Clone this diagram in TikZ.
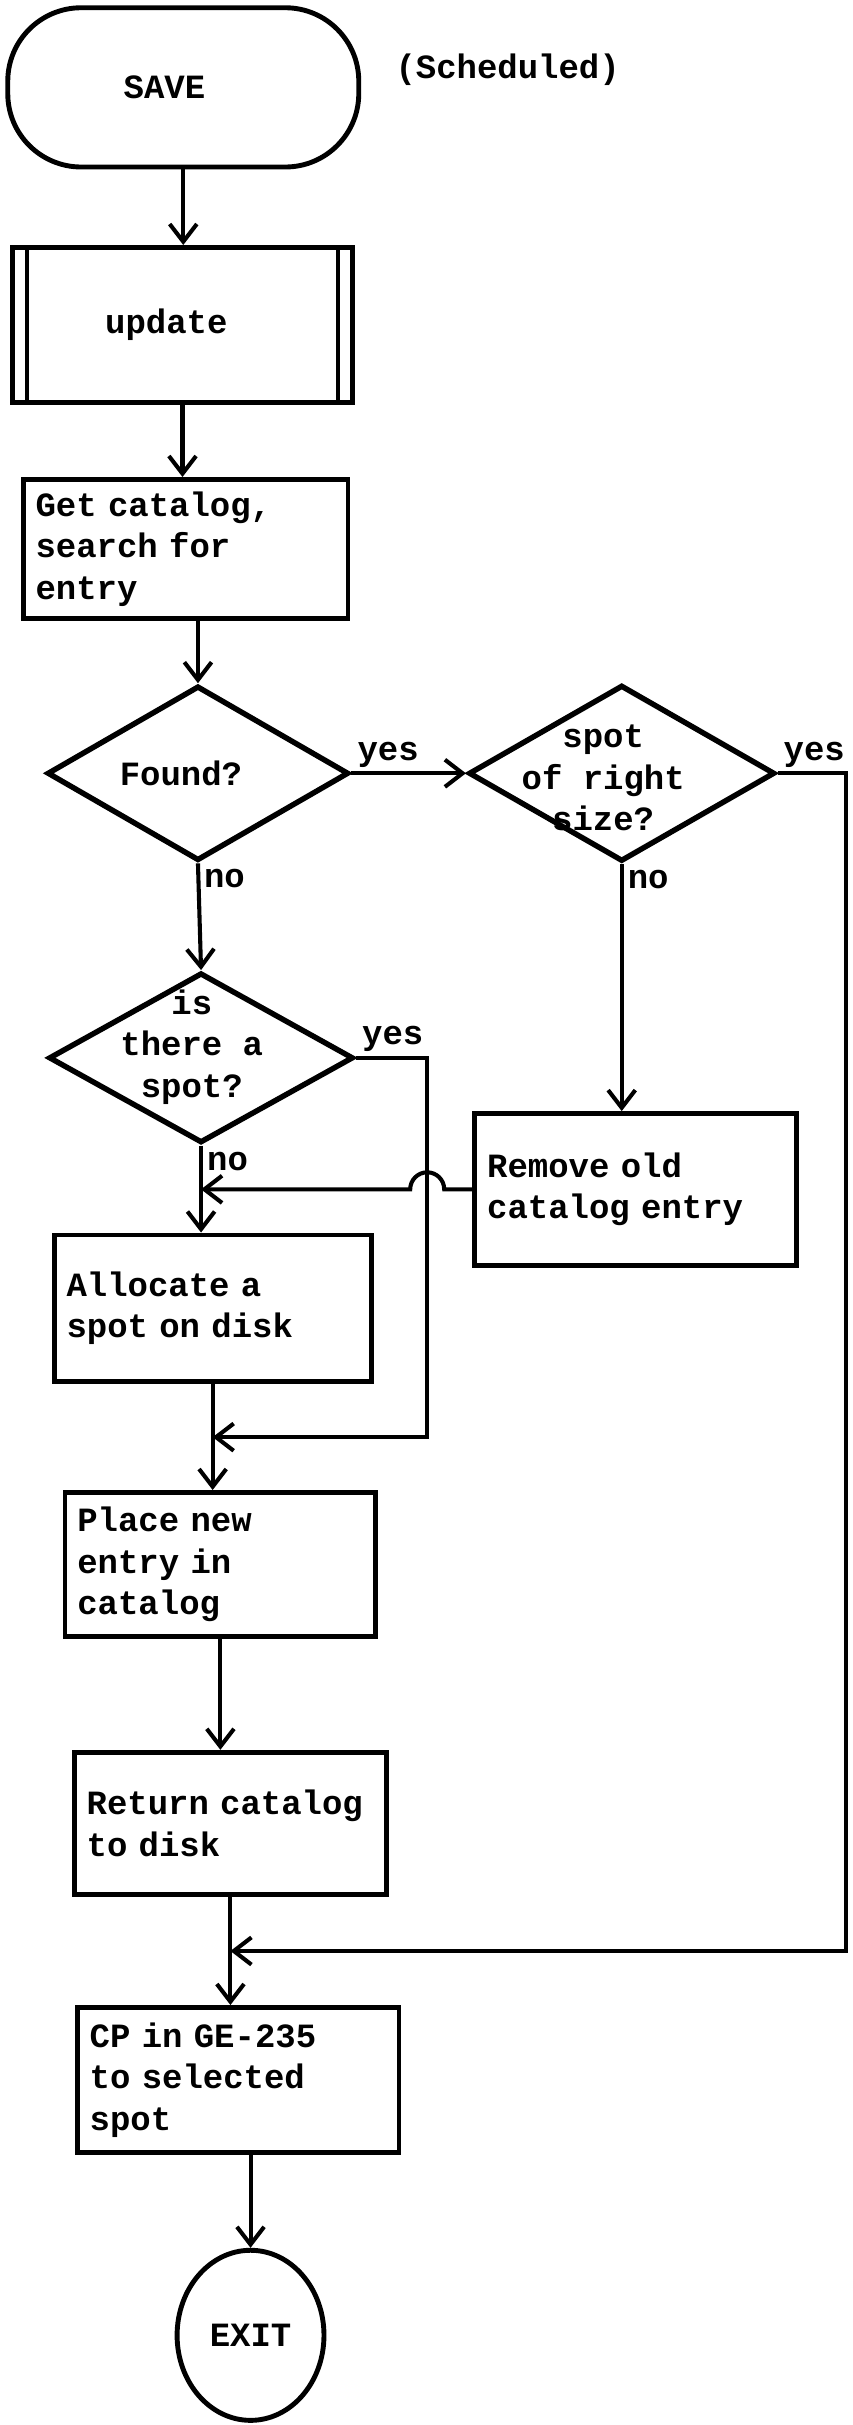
\documentclass[tikz,border=0pt]{standalone}
\usepackage{fontspec}
\setmonofont{Liberation Mono}
\usetikzlibrary{positioning, calc, arrows.meta, shapes.geometric}
\newcommand{\fcfont}{\ttfamily\bfseries\fontsize{12.5}{15.3}\selectfont}
\tikzset{
    termnode/.style={rectangle, rounded corners=0.95cm, draw, line width=1.8pt, font=\fcfont, align=left},
    procnode/.style={rectangle, draw, line width=1.8pt, font=\fcfont, align=left, inner xsep=0.16cm, inner ysep=0pt, text width=#1, minimum height=1.86cm},
    decision/.style={diamond, draw, line width=2pt, inner sep=0pt},
    dtext/.style={font=\fcfont, align=center, inner sep=0pt},
    lbl/.style={font=\fcfont, inner sep=1.5pt},
    arr/.style={-{Straight Barb[length=6.5pt, width=10pt, line width=1.5pt]}, line width=1.5pt},
}

\begin{document}
\begin{tikzpicture}[x=0.02cm, y=-0.02cm]
    \useasboundingbox (0,0) rectangle (551,1568);

    % 1. start and main column
    \node[termnode, minimum width=4.54cm, minimum height=2.06cm, inner xsep=1.5cm, text width=1.54cm] (save) at (118.5,56.5) {SAVE};
    \node[right=0.32cm of save, yshift=0.23cm, font=\fcfont] (sched) {(Scheduled)};

    \node[procnode=2.0cm, inner xsep=1.2cm, minimum height=2.0cm] (upd) at (118,210) {update};
    \draw[line width=1.8pt] ([xshift=0.22cm]upd.north west) -- ([xshift=0.22cm]upd.south west);
    \draw[line width=1.8pt] ([xshift=-0.22cm]upd.north east) -- ([xshift=-0.22cm]upd.south east);

    \node[procnode=3.88cm, minimum height=1.8cm] (get) at (120,355) {Get catalog,\\search for\\entry};

    % 2. decisions
    \node[decision, minimum width=3.9cm, minimum height=2.26cm,
        label={[dtext, xshift=-0.22cm]center:Found?}] (found) at (128,500) {};
    \node[decision, minimum width=3.96cm, minimum height=2.28cm,
        label={[dtext, xshift=-0.24cm, yshift=-0.06cm]center:{spot\\of right\\size?}}] (size) at (402,500) {};
    \node[decision, minimum width=3.94cm, minimum height=2.2cm,
        label={[dtext, xshift=-0.12cm, yshift=0.14cm]center:{is\\there a\\spot?}}] (isspot) at (130,684) {};

    % 3. boxes below
    \node[procnode=3.84cm, minimum height=1.96cm] (rem) at (411,769) {Remove old\\catalog entry};
    \node[procnode=3.78cm, minimum height=1.9cm] (alloc) at (137.5,846) {Allocate a\\spot on disk};
    \node[procnode=3.7cm] (place) at (142.5,1011.5) {Place new\\entry in\\catalog};
    \node[procnode=3.72cm, minimum height=1.84cm] (ret) at (149,1179) {Return catalog\\to disk};
    \node[procnode=3.84cm, minimum height=1.88cm] (cp) at (154,1345) {CP in GE-235\\to selected\\spot};
    \node[ellipse, draw, line width=1.8pt, minimum width=1.9cm, minimum height=2.2cm, font=\fcfont] (exit) at (162,1510) {EXIT};

    % junctions and bends
    \coordinate (jrem) at (isspot.south |- rem.west);
    \coordinate (jplace) at ($(alloc.south)!0.5!(alloc.south |- place.north)$);
    \coordinate (jcp) at ($(ret.south)!0.5!(ret.south |- cp.north)$);
    \coordinate (spotbend) at ([xshift=0.92cm]isspot.east);
    \coordinate (sizebend) at ([xshift=0.88cm]size.east);

    % 4. connectors
    \draw[arr] (save.south) -- (save.south |- upd.north);
    \draw[arr] (upd.south) -- (upd.south |- get.north);
    \draw[arr] (found.north |- get.south) -- (found.north);
    \draw[arr] (found.east) -- node[lbl, at start, above right] {yes} (size.west);
    \draw[arr] (found.south) -- node[lbl, at start, below right] {no} (isspot.north);
    \draw[arr] (size.south) -- node[lbl, at start, below right] {no} (size.south |- rem.north);
    \draw[arr] (size.east) -- node[lbl, at start, above right] {yes} (sizebend) |- (jcp);
    \draw[arr] (isspot.south) -- node[lbl, at start, below right] {no} (isspot.south |- alloc.north);
    \draw[arr] (isspot.east) -- node[lbl, at start, above right] {yes} (spotbend) |- (jplace);
    % hop over the yes line
    \draw[arr] (rem.west) -- ($(spotbend |- rem.west)+(11,0)$)
        arc[start angle=0, end angle=180, radius=0.22cm] -- (jrem);
    \draw[arr] (alloc.south) -- (alloc.south |- place.north);
    \draw[arr] (place.south) -- (place.south |- ret.north);
    \draw[arr] (ret.south) -- (ret.south |- cp.north);
    \draw[arr] (exit.north |- cp.south) -- (exit.north);

\end{tikzpicture}
\end{document}
